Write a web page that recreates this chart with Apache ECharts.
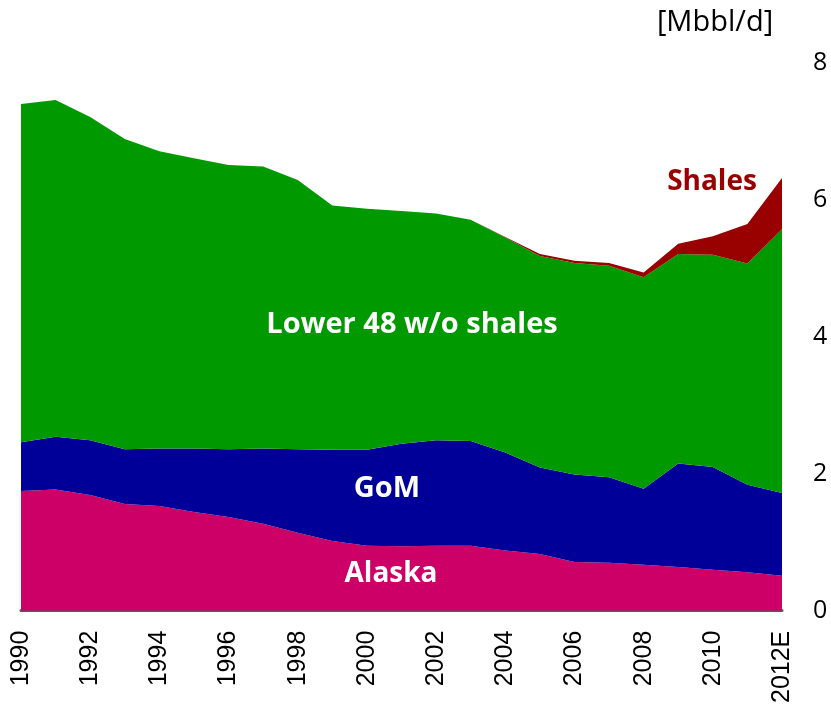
<!DOCTYPE html>
<html lang="en">
<head>
    <meta charset="UTF-8"/>
    <title>US crude oil production</title>
    <script src="https://cdn.jsdelivr.net/npm/echarts@6/dist/echarts.min.js"></script>
    <style>
        html, body { margin: 0; padding: 0; background: #fff; }
        #chart { width: 831px; height: 706px; }
    </style>
</head>
<body>
<div id="chart"></div>
<script type="text/javascript">
    // categories
    var years = ['1990', '1991', '1992', '1993', '1994', '1995', '1996', '1997', '1998', '1999', '2000', '2001',
        '2002', '2003', '2004', '2005', '2006', '2007', '2008', '2009', '2010', '2011', '2012E'];
    // Mbbl/d
    var alaska = [1.75, 1.77, 1.69, 1.56, 1.53, 1.44, 1.37, 1.27, 1.14, 1.02, 0.95, 0.94,
        0.95, 0.95, 0.88, 0.83, 0.71, 0.70, 0.67, 0.64, 0.60, 0.56, 0.51];
    var gom = [0.71, 0.77, 0.80, 0.80, 0.84, 0.93, 0.99, 1.10, 1.22, 1.33, 1.40, 1.50,
        1.54, 1.53, 1.43, 1.26, 1.28, 1.25, 1.11, 1.51, 1.50, 1.28, 1.21];
    var lower48 = [4.94, 4.92, 4.72, 4.53, 4.34, 4.24, 4.15, 4.12, 3.93, 3.57, 3.52, 3.40,
        3.31, 3.23, 3.14, 3.09, 3.09, 3.09, 3.09, 3.06, 3.10, 3.23, 3.85];
    var shales = [0, 0, 0, 0, 0, 0, 0, 0, 0, 0, 0, 0,
        0, 0, 0.01, 0.03, 0.03, 0.04, 0.07, 0.15, 0.27, 0.58, 0.75];
    var yTicks = [0, 2, 4, 6, 8];

    var myChart = echarts.init(document.getElementById('chart'));

    function area(name, data, color) {
        return {
            name: name,
            type: 'line',
            stack: 'total',
            data: data,
            symbol: 'none',
            silent: true,
            lineStyle: {width: 0},
            areaStyle: {color: color, opacity: 1},
            itemStyle: {color: color}
        };
    }

    // text label placed by its centre
    function label(text, x, y, size, color, bold) {
        return {
            type: 'text', z: 100, x: x, y: y,
            style: {
                text: text, fill: color, fontFamily: 'Open Sans', fontSize: size,
                fontWeight: bold ? 'bold' : 'normal', align: 'center', verticalAlign: 'middle'
            }
        };
    }

    var option = {
        animation: false,
        grid: {left: 21, right: 49, top: 63, bottom: 95},
        xAxis: {
            type: 'category',
            data: years,
            boundaryGap: false,
            axisLine: {lineStyle: {color: '#595959', width: 3}},
            axisTick: {show: false},
            axisLabel: {
                interval: 1,
                rotate: 90,
                margin: 20,
                color: '#000',
                fontFamily: 'Liberation Sans',
                fontSize: 25
            }
        },
        yAxis: {
            type: 'value',
            position: 'right',
            min: yTicks[0],
            max: yTicks[yTicks.length - 1],
            interval: 2,
            splitLine: {show: false},
            axisLine: {show: false},
            axisTick: {show: false},
            axisLabel: {
                margin: 31,
                color: '#000',
                fontFamily: 'Open Sans',
                fontSize: 25
            }
        },
        graphic: [
            label('[Mbbl/d]', 715, 23, 29, '#000', false),
            label('Lower 48 w/o shales', 412, 325, 29, '#fff', true),
            label('GoM', 387, 489, 29, '#fff', true),
            label('Alaska', 391, 574, 28, '#fff', true),
            label('Shales', 712, 182, 28, '#990000', true)
        ],
        series: [
            area('Alaska', alaska, '#CC0066'),
            area('GoM', gom, '#000099'),
            area('Lower 48 w/o shales', lower48, '#009900'),
            area('Shales', shales, '#990000')
        ]
    };

    myChart.setOption(option);
</script>
</body>
</html>
